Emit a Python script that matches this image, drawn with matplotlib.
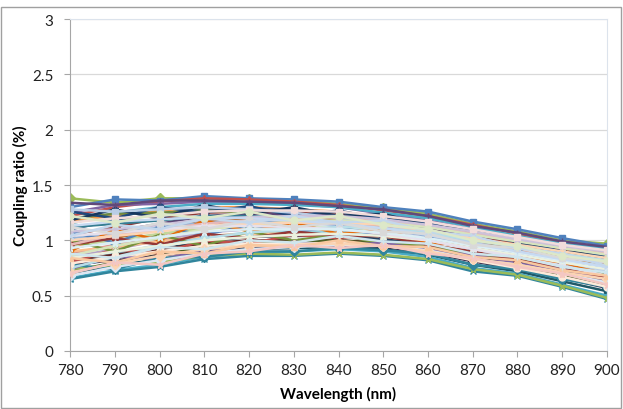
import matplotlib
matplotlib.use("Agg")
import matplotlib.pyplot as plt
from matplotlib.patches import Rectangle

# wavelengths (nm)
wavelength = [780, 790, 800, 810, 820, 830, 840, 850, 860, 870, 880, 890, 900]

s01 = [1.38, 1.34, 1.38, 1.38, 1.37, 1.36, 1.33, 1.29, 1.24, 1.15, 1.08, 1.00, 0.97]
s02 = [1.30, 1.37, 1.36, 1.40, 1.38, 1.37, 1.35, 1.30, 1.26, 1.17, 1.10, 1.02, 0.95]
s03 = [1.22, 1.30, 1.35, 1.38, 1.37, 1.35, 1.32, 1.27, 1.22, 1.14, 1.06, 0.98, 0.92]
s04 = [1.25, 1.32, 1.33, 1.35, 1.34, 1.33, 1.30, 1.24, 1.18, 1.10, 1.03, 0.96, 0.90]
s05 = [1.15, 1.25, 1.30, 1.33, 1.33, 1.32, 1.30, 1.25, 1.20, 1.12, 1.04, 0.97, 0.93]
s06 = [1.18, 1.22, 1.27, 1.30, 1.30, 1.28, 1.26, 1.21, 1.15, 1.07, 0.99, 0.91, 0.85]
s07 = [1.10, 1.18, 1.24, 1.28, 1.29, 1.28, 1.25, 1.20, 1.13, 1.05, 0.97, 0.89, 0.82]
s08 = [1.05, 1.12, 1.20, 1.25, 1.26, 1.25, 1.23, 1.18, 1.12, 1.04, 0.96, 0.88, 0.80]
s09 = [1.20, 1.24, 1.25, 1.27, 1.25, 1.22, 1.18, 1.13, 1.07, 0.99, 0.92, 0.85, 0.78]
s10 = [0.98, 1.08, 1.15, 1.22, 1.24, 1.24, 1.22, 1.17, 1.11, 1.03, 0.95, 0.87, 0.79]
s11 = [1.12, 1.15, 1.18, 1.22, 1.22, 1.20, 1.17, 1.12, 1.06, 0.98, 0.90, 0.82, 0.74]
s12 = [0.92, 1.02, 1.10, 1.17, 1.20, 1.20, 1.19, 1.15, 1.09, 1.01, 0.93, 0.85, 0.78]
s13 = [1.02, 1.06, 1.12, 1.16, 1.17, 1.16, 1.14, 1.10, 1.04, 0.96, 0.88, 0.80, 0.72]
s14 = [0.88, 0.96, 1.05, 1.12, 1.15, 1.16, 1.15, 1.12, 1.06, 0.98, 0.91, 0.83, 0.75]
s15 = [0.95, 1.00, 1.06, 1.11, 1.13, 1.12, 1.11, 1.07, 1.01, 0.93, 0.86, 0.78, 0.70]
s16 = [0.85, 0.92, 1.00, 1.07, 1.10, 1.11, 1.10, 1.07, 1.02, 0.94, 0.87, 0.79, 0.71]
s17 = [0.80, 0.88, 0.96, 1.03, 1.07, 1.08, 1.08, 1.05, 1.00, 0.92, 0.85, 0.77, 0.68]
s18 = [0.90, 0.94, 0.99, 1.04, 1.06, 1.06, 1.05, 1.02, 0.97, 0.89, 0.82, 0.74, 0.66]
s19 = [0.76, 0.84, 0.92, 0.99, 1.03, 1.04, 1.04, 1.01, 0.96, 0.88, 0.81, 0.73, 0.64]
s20 = [0.82, 0.87, 0.92, 0.97, 1.00, 1.00, 1.00, 0.98, 0.93, 0.85, 0.78, 0.70, 0.62]
s21 = [0.72, 0.80, 0.87, 0.94, 0.98, 0.99, 1.00, 0.97, 0.92, 0.84, 0.77, 0.69, 0.60]
s22 = [0.78, 0.82, 0.86, 0.91, 0.94, 0.95, 0.96, 0.94, 0.89, 0.81, 0.74, 0.66, 0.57]
s23 = [0.70, 0.77, 0.83, 0.89, 0.92, 0.93, 0.94, 0.92, 0.87, 0.78, 0.72, 0.63, 0.54]
s24 = [0.66, 0.73, 0.78, 0.85, 0.88, 0.90, 0.92, 0.90, 0.85, 0.75, 0.70, 0.60, 0.50]
s25 = [0.65, 0.72, 0.76, 0.83, 0.86, 0.86, 0.88, 0.86, 0.82, 0.72, 0.68, 0.58, 0.47]
s26 = [0.74, 0.78, 0.80, 0.86, 0.88, 0.87, 0.89, 0.87, 0.83, 0.74, 0.69, 0.59, 0.48]
s27 = [1.28, 1.26, 1.28, 1.30, 1.28, 1.25, 1.20, 1.14, 1.07, 0.98, 0.90, 0.81, 0.72]
s28 = [0.96, 1.05, 1.10, 1.15, 1.18, 1.20, 1.21, 1.18, 1.13, 1.06, 1.00, 0.93, 0.88]
s29 = [0.86, 0.95, 1.02, 1.10, 1.14, 1.17, 1.18, 1.16, 1.12, 1.05, 0.99, 0.93, 0.87]
s30 = [1.08, 1.10, 1.14, 1.19, 1.21, 1.22, 1.22, 1.19, 1.14, 1.08, 1.01, 0.95, 0.90]
s31 = [0.75, 0.85, 0.94, 1.02, 1.07, 1.10, 1.12, 1.11, 1.07, 1.00, 0.94, 0.88, 0.82]
s32 = [1.00, 1.04, 1.08, 1.13, 1.15, 1.16, 1.16, 1.14, 1.09, 1.02, 0.96, 0.90, 0.84]
s33 = [0.68, 0.76, 0.82, 0.88, 0.92, 0.94, 0.96, 0.95, 0.91, 0.83, 0.78, 0.70, 0.62]
s34 = [1.16, 1.20, 1.22, 1.26, 1.27, 1.27, 1.26, 1.22, 1.17, 1.10, 1.03, 0.96, 0.91]
s35 = [0.84, 0.90, 0.95, 1.00, 1.03, 1.05, 1.06, 1.04, 1.00, 0.93, 0.87, 0.80, 0.74]
s36 = [1.04, 1.07, 1.10, 1.13, 1.13, 1.12, 1.10, 1.06, 1.00, 0.92, 0.85, 0.77, 0.68]
s37 = [0.93, 0.98, 1.03, 1.08, 1.10, 1.10, 1.10, 1.07, 1.02, 0.95, 0.89, 0.82, 0.76]
s38 = [0.79, 0.85, 0.90, 0.95, 0.97, 0.97, 0.97, 0.95, 0.90, 0.82, 0.75, 0.67, 0.58]
s39 = [1.13, 1.17, 1.19, 1.21, 1.20, 1.18, 1.15, 1.11, 1.05, 0.97, 0.90, 0.83, 0.76]
s40 = [0.71, 0.79, 0.86, 0.92, 0.95, 0.96, 0.97, 0.95, 0.90, 0.83, 0.78, 0.71, 0.65]
s41 = [1.26, 1.20, 1.30, 1.25, 1.31, 1.22, 1.27, 1.19, 1.16, 1.05, 1.00, 0.90, 0.86]
s42 = [0.80, 0.92, 0.88, 1.00, 0.97, 1.05, 1.02, 1.06, 0.98, 0.95, 0.86, 0.83, 0.74]
s43 = [1.08, 0.98, 1.12, 1.05, 1.14, 1.08, 1.12, 1.04, 1.02, 0.92, 0.90, 0.80, 0.76]
s44 = [0.90, 1.10, 1.00, 1.18, 1.08, 1.16, 1.06, 1.10, 0.98, 0.96, 0.84, 0.80, 0.70]
s45 = [1.00, 0.90, 1.05, 0.95, 1.08, 1.00, 1.05, 0.97, 0.96, 0.86, 0.84, 0.74, 0.70]
s46 = [0.74, 0.86, 0.82, 0.92, 0.90, 0.98, 0.95, 0.98, 0.91, 0.87, 0.79, 0.74, 0.64]
s47 = [1.18, 1.28, 1.20, 1.32, 1.24, 1.30, 1.22, 1.24, 1.13, 1.10, 0.98, 0.94, 0.82]
s48 = [0.96, 1.02, 0.96, 1.06, 1.02, 1.08, 1.04, 1.04, 0.96, 0.90, 0.82, 0.76, 0.66]
s49 = [1.12, 1.06, 1.16, 1.10, 1.18, 1.12, 1.16, 1.08, 1.06, 0.96, 0.93, 0.84, 0.80]
s50 = [0.84, 0.80, 0.90, 0.88, 0.96, 0.94, 1.00, 0.95, 0.94, 0.85, 0.82, 0.73, 0.68]
s51 = [1.04, 1.14, 1.10, 1.20, 1.16, 1.22, 1.16, 1.18, 1.08, 1.04, 0.93, 0.88, 0.77]
s52 = [0.70, 0.80, 0.78, 0.88, 0.90, 0.96, 0.93, 0.96, 0.88, 0.84, 0.76, 0.70, 0.60]
s53 = [1.22, 1.16, 1.24, 1.20, 1.26, 1.18, 1.22, 1.14, 1.10, 1.00, 0.95, 0.86, 0.81]
s54 = [0.88, 0.84, 0.94, 0.92, 1.00, 0.98, 1.04, 0.99, 0.97, 0.88, 0.85, 0.76, 0.71]
s55 = [1.34, 1.32, 1.36, 1.36, 1.35, 1.34, 1.31, 1.28, 1.22, 1.13, 1.07, 0.99, 0.94]
s56 = [0.78, 0.74, 0.84, 0.85, 0.90, 0.90, 0.93, 0.91, 0.88, 0.78, 0.74, 0.65, 0.58]

# vivid series first, pale ones last (drawn on top, as in the reference)
series = [s01, s02, s03, s04, s05, s06, s07, s08, s09, s10,
          s11, s12, s13, s14, s15, s16, s17, s18, s19, s20,
          s21, s22, s23, s24, s25, s26, s41, s42, s43, s44,
          s45, s46, s47, s48, s55, s56,
          s27, s28, s29, s30, s31, s32, s33, s34, s35, s36,
          s37, s38, s39, s40, s49, s50, s51, s52, s53, s54]

colors = [
    "#9BBB59", "#4F81BD", "#C0504D", "#8064A2", "#4BACC6", "#F79646",
    "#385D8A", "#8C3836", "#71893F", "#5C4776", "#357D91", "#B66D31",
    "#95B3D7", "#D99694", "#C3D69B", "#B3A2C7", "#93CDDD", "#FAC090",
    "#254061", "#632523", "#4F6228", "#3F3151", "#215968", "#4BACC6",
    "#31859C", "#9BBB59", "#1F497D", "#C0504D", "#4F81BD", "#E46C0A",
    "#76923C", "#8064A2", "#17375E", "#953735", "#60497A", "#31859C",
    "#B9CDE5", "#E6B9B8", "#D7E4BD", "#CCC1DA", "#B7DEE8", "#FCD5B5",
    "#DCE6F2", "#F2DCDB", "#EBF1DE", "#E6E0EC", "#DBEEF4", "#FDEADA",
    "#C6D9F1", "#FBD4B4", "#D9D9D9", "#F9C8A0", "#C4D7EC", "#F4C7C3",
    "#DDE8C8", "#CFE6EE",
]
markers = ["D", "s", "^", "x", "*", "o", "+"]

fig = plt.figure(figsize=(6.23, 4.10), dpi=100)
fig.patches.append(Rectangle((0.002, 0.002), 0.995, 0.979, transform=fig.transFigure,
                             fill=False, edgecolor="#A0A0A0", linewidth=1.0))
ax = fig.add_axes([0.1124, 0.1415, 0.8619, 0.8095])

for i, vals in enumerate(series):
    c = colors[i % len(colors)]
    ax.plot(wavelength, vals, color=c, linewidth=1.8,
            marker=markers[i % len(markers)], markersize=5,
            markerfacecolor=c, markeredgecolor=c, zorder=2 + i * 0.01)

ax.set_xlim(780, 900)
ax.set_ylim(0, 3)
ax.set_xticks(wavelength)
ax.set_yticks([0, 0.5, 1, 1.5, 2, 2.5, 3])
ax.set_yticklabels(["0", "0.5", "1", "1.5", "2", "2.5", "3"])
ax.grid(axis="y", color="#D9D9D9", linewidth=0.9, zorder=0)
ax.set_axisbelow(True)

for side in ["top", "right"]:
    ax.spines[side].set_color("#DCE3EC")
for side in ["left", "bottom"]:
    ax.spines[side].set_color("#A6A6A6")

ax.tick_params(axis="x", direction="out", length=4, color="#A6A6A6",
               labelsize=11, pad=5, labelcolor="#222222")
ax.tick_params(axis="y", direction="out", length=4, color="#A6A6A6",
               labelsize=11, pad=8, labelcolor="#222222")
for lbl in ax.get_xticklabels() + ax.get_yticklabels():
    lbl.set_fontfamily("Lato")

ax.set_xlabel("Wavelength (nm)", fontsize=11, fontweight="bold", family="Lato", labelpad=6)
ax.set_ylabel("Coupling ratio (%)", fontsize=11, fontweight="bold", family="Lato", labelpad=3)

fig.savefig("out.png", dpi=100)
